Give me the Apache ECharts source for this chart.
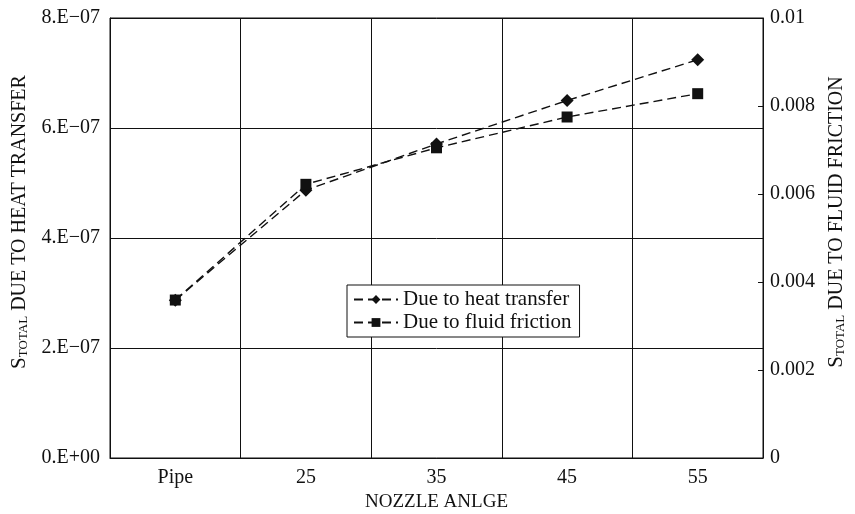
<!DOCTYPE html>
<html lang="en">
<head>
    <meta charset="UTF-8">
    <title>Entropy vs nozzle angle</title>
    <script src="https://cdn.jsdelivr.net/npm/echarts@6/dist/echarts.min.js"></script>
</head>
<style>
html,body{margin: 0;padding: 0;background: #fff}
#chartBox{width: 855px;height: 514px}
</style>
<body>
    <div id="chartBox"></div>
</body>
<script>
// data
let categories = ['Pipe', '25', '35', '45', '55'];
let heatTransfer = [2.87e-7, 4.87e-7, 5.71e-7, 6.50e-7, 7.24e-7];
let fluidFriction = [0.00359, 0.00622, 0.00705, 0.00775, 0.00828];
let leftTickLabels = ['0.E+00', '2.E\u221207', '4.E\u221207', '6.E\u221207', '8.E\u221207'];
let rightTickLabels = ['0', '0.002', '0.004', '0.006', '0.008', '0.01'];

let serif = '"Liberation Serif", "DejaVu Serif", serif';
let ink = '#111';

// rich text for S with subscript TOTAL
let nameRich = {
    s: {fontFamily: serif, fontSize: 21, color: ink, lineHeight: 24, verticalAlign: 'bottom'},
    sub: {fontFamily: serif, fontSize: 13, color: ink, lineHeight: 24, verticalAlign: 'bottom', padding: [6, 0, 0, 0]},
    t: {fontFamily: serif, fontSize: 20, color: ink, lineHeight: 24, verticalAlign: 'bottom'}
};

function lineSeries(name, data, axisIndex, symbol, z) {
    return {
        type: 'line',
        name: name,
        yAxisIndex: axisIndex,
        data: data,
        symbol: symbol,
        symbolSize: symbol === 'diamond' ? 13 : 11,
        z: z,
        itemStyle: {color: ink},
        lineStyle: {color: ink, width: 1.4, type: [9, 5]},
        animation: false
    };
}

let chartObj = echarts.init(document.getElementById('chartBox'));
let option = {
    backgroundColor: '#fff',
    animation: false,
    grid: {
        left: 110, right: 92, top: 18, bottom: 56,
        outerBoundsMode: 'none',
        containLabel: false,
        show: true, borderColor: ink, borderWidth: 1
    },
    legend: {
        orient: 'vertical',
        left: 347, top: 285,
        backgroundColor: '#fff',
        borderColor: ink, borderWidth: 1,
        padding: [4, 8, 4, 6],
        itemGap: 2,
        itemWidth: 44, itemHeight: 11,
        textStyle: {fontFamily: serif, fontSize: 21, color: ink},
        data: ['Due to heat transfer', 'Due to fluid friction']
    },
    xAxis: {
        type: 'category',
        data: categories,
        boundaryGap: true,
        name: 'NOZZLE ANLGE',
        nameLocation: 'middle',
        nameGap: 27,
        nameTextStyle: {fontFamily: serif, fontSize: 19, color: ink},
        axisLine: {lineStyle: {color: ink, width: 1}},
        axisTick: {show: false},
        axisLabel: {fontFamily: serif, fontSize: 20, color: ink, margin: 10},
        splitLine: {show: true, lineStyle: {color: ink, width: 1}}
    },
    yAxis: [
        {
            type: 'value',
            min: 0, max: 8e-7, interval: 2e-7,
            name: '{s|S}{sub|TOTAL}{t| DUE TO HEAT TRANSFER}',
            nameLocation: 'middle',
            nameGap: 80,
            nameRotate: 90,
            nameTextStyle: {rich: nameRich, padding: [0, 0, 0, 32]},
            axisLine: {show: true, lineStyle: {color: ink, width: 1}},
            axisTick: {show: false},
            axisLabel: {
                fontFamily: serif, fontSize: 20, color: ink, margin: 10,
                formatter: function (v) { return leftTickLabels[Math.round(v / 2e-7)]; }
            },
            splitLine: {show: true, lineStyle: {color: ink, width: 1}}
        },
        {
            type: 'value',
            min: 0, max: 0.01, interval: 0.002,
            position: 'right',
            name: '{s|S}{sub|TOTAL}{t| DUE TO FLUID FRICTION}',
            nameLocation: 'middle',
            nameGap: 60,
            nameRotate: 90,
            nameTextStyle: {rich: nameRich, padding: [0, 0, 0, 32]},
            axisLine: {show: true, lineStyle: {color: ink, width: 1}},
            axisTick: {show: true, inside: true, length: 5, lineStyle: {color: ink}},
            axisLabel: {
                fontFamily: serif, fontSize: 20, color: ink, margin: 7,
                formatter: function (v) { return rightTickLabels[Math.round(v / 0.002)]; }
            },
            splitLine: {show: false}
        }
    ],
    series: [
        lineSeries('Due to heat transfer', heatTransfer, 0, 'diamond', 2),
        lineSeries('Due to fluid friction', fluidFriction, 1, 'rect', 3)
    ]
};
chartObj.setOption(option);
</script>
</html>
